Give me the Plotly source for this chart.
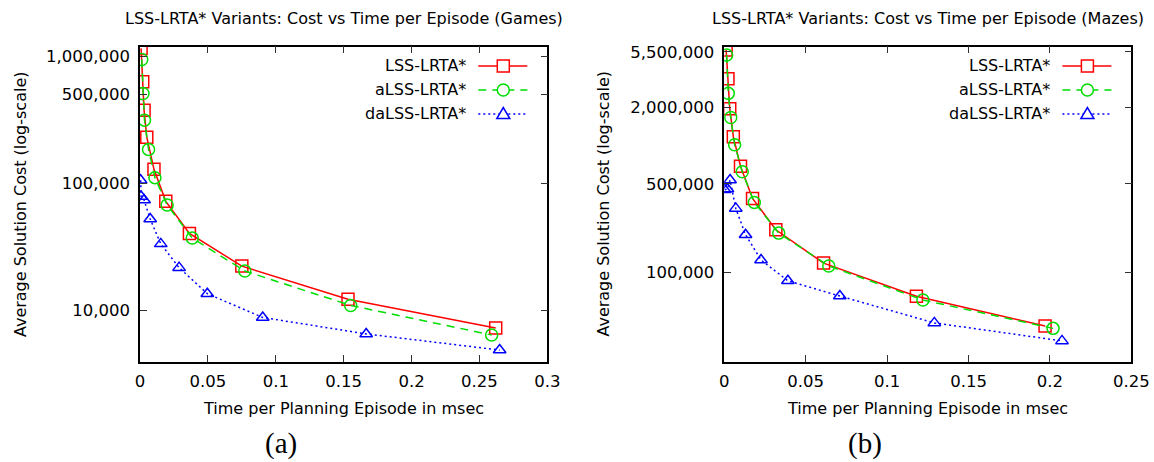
import plotly.graph_objects as go

# ---------------- data ----------------
series_names = ["LSS-LRTA*", "aLSS-LRTA*", "daLSS-LRTA*"]

# (a) Games
lss_games_x = [0.0008, 0.0020, 0.0030, 0.0050, 0.0103, 0.0190, 0.0364, 0.0750, 0.1532, 0.2620]
lss_games_y = [1150000, 630000, 375000, 231000, 129000, 72300, 40500, 22400, 12300, 7300]
alss_games_x = [0.0013, 0.0022, 0.0033, 0.0063, 0.0110, 0.0200, 0.0385, 0.0772, 0.1552, 0.2590]
alss_games_y = [940000, 508000, 314000, 185000, 111000, 67600, 37200, 20500, 11000, 6450]
dalss_games_x = [0.0005, 0.0008, 0.0030, 0.0075, 0.0153, 0.0288, 0.0496, 0.0904, 0.1666, 0.2649]
dalss_games_y = [106000, 79000, 74000, 52500, 33500, 21800, 13600, 8850, 6570, 4910]

# (b) Mazes
lss_mazes_x = [0.0012, 0.0023, 0.0034, 0.0056, 0.0100, 0.0174, 0.0317, 0.0610, 0.1180, 0.1970]
lss_mazes_y = [5700000, 3380000, 1960000, 1180000, 690000, 385000, 218000, 119000, 65300, 38000]
alss_mazes_x = [0.0015, 0.0025, 0.0040, 0.0064, 0.0111, 0.0185, 0.0335, 0.0642, 0.1220, 0.2019]
alss_mazes_y = [5200000, 2590000, 1670000, 1020000, 625000, 358000, 205000, 113000, 60900, 36400]
dalss_mazes_x = [0.0003, 0.0020, 0.0036, 0.0071, 0.0131, 0.0226, 0.0391, 0.0710, 0.1290, 0.2074]
dalss_mazes_y = [450000, 457000, 537000, 321000, 199000, 126000, 86300, 65400, 40200, 29000]

# tick labels
games_ytickvals = [1000000, 500000, 100000, 10000]
games_yticktext = ["1,000,000", "500,000", "100,000", "10,000"]
mazes_ytickvals = [5500000, 2000000, 500000, 100000]
mazes_yticktext = ["5,500,000", "2,000,000", "500,000", "100,000"]
games_xtickvals = [0, 0.05, 0.1, 0.15, 0.2, 0.25, 0.3]
mazes_xtickvals = [0, 0.05, 0.1, 0.15, 0.2, 0.25]

titles = ["LSS-LRTA* Variants: Cost vs Time per Episode (Games)",
          "LSS-LRTA* Variants: Cost vs Time per Episode (Mazes)"]
xlabel = "Time per Planning Episode in msec"
ylabel = "Average Solution Cost (log-scale)"
captions = ["(a)", "(b)"]

# ---------------- styles ----------------
W, H = 1154, 462
FONT = "DejaVu Sans"
FS = 16
TFS = 16.5
RED, GREEN, BLUE = "#ff0000", "#00dd00", "#0000ff"
styles = [
    dict(color=RED, dash="solid", symbol="square-open", size=12),
    dict(color=GREEN, dash="8px,6px", symbol="circle-open", size=12),
    dict(color=BLUE, dash="2px,3px", symbol="triangle-up-open", size=11),
]


def px(x):
    return x / W


def py(y):
    return 1 - y / H


fig = go.Figure()

panels = [
    ("x", "y", [(lss_games_x, lss_games_y), (alss_games_x, alss_games_y), (dalss_games_x, dalss_games_y)]),
    ("x2", "y2", [(lss_mazes_x, lss_mazes_y), (alss_mazes_x, alss_mazes_y), (dalss_mazes_x, dalss_mazes_y)]),
]
for xa, ya, series in panels:
    for name, (xs, ys), st in zip(series_names, series, styles):
        fig.add_trace(go.Scatter(
            x=xs, y=ys, name=name, xaxis=xa, yaxis=ya, mode="lines+markers",
            showlegend=False,
            line=dict(color=st["color"], width=1.5, dash=st["dash"]),
            marker=dict(symbol=st["symbol"], size=st["size"], color=st["color"],
                        line=dict(width=1.5, color=st["color"])),
        ))

# frame geometry (pixels)
frames = [(140.0, 547.3), (724.2, 1131.4)]
top_px, bot_px = 46.7, 361.5

axis_common = dict(
    showline=True, linecolor="black", linewidth=1.5, mirror="ticks",
    ticks="inside", ticklen=7, tickwidth=1.2, tickcolor="#333333",
    showgrid=False, zeroline=False, automargin=False,
    tickfont=dict(family=FONT, size=TFS, color="black"),
)
xaxis_extra = dict(ticklabelstandoff=4)
yaxis_extra = dict(ticklabelstandoff=5)

fig.update_layout(
    template="none",
    width=W, height=H, autosize=False,
    margin=dict(l=0, r=0, t=0, b=0, pad=0, autoexpand=False),
    paper_bgcolor="white", plot_bgcolor="white",
    showlegend=False,
    font=dict(family=FONT, size=FS, color="black"),
    xaxis=dict(domain=[px(frames[0][0]), px(frames[0][1])], range=[0, 0.3],
               tickvals=games_xtickvals, anchor="y", **axis_common, **xaxis_extra),
    yaxis=dict(domain=[py(bot_px), py(top_px)], type="log", range=[3.601, 6.074],
               tickvals=games_ytickvals, ticktext=games_yticktext, anchor="x",
               **axis_common, **yaxis_extra),
    xaxis2=dict(domain=[px(frames[1][0]), px(frames[1][1])], range=[0, 0.25],
                tickvals=mazes_xtickvals, anchor="y2", **axis_common, **xaxis_extra),
    yaxis2=dict(domain=[py(bot_px), py(top_px)], type="log", range=[4.300, 6.781],
                tickvals=mazes_ytickvals, ticktext=mazes_yticktext, anchor="x2",
                **axis_common, **yaxis_extra),
)

annotations = []
shapes = []
ylabel_x = [20, 603.5]
caption_x = [281, 865]
for i, (fl, fr) in enumerate(frames):
    cx = (fl + fr) / 2
    annotations.append(dict(text=titles[i], x=px(cx), y=py(19), xref="paper", yref="paper",
                            showarrow=False, xanchor="center", yanchor="middle",
                            font=dict(family=FONT, size=FS)))
    annotations.append(dict(text=xlabel, x=px(cx), y=py(408), xref="paper", yref="paper",
                            showarrow=False, xanchor="center", yanchor="middle",
                            font=dict(family=FONT, size=FS)))
    annotations.append(dict(text=ylabel, x=px(ylabel_x[i]), y=py((top_px + bot_px) / 2),
                            xref="paper", yref="paper", textangle=-90,
                            showarrow=False, xanchor="center", yanchor="middle",
                            font=dict(family=FONT, size=FS)))
    annotations.append(dict(text=captions[i], x=px(caption_x[i]), y=py(443), xref="paper", yref="paper",
                            showarrow=False, xanchor="center", yanchor="middle",
                            font=dict(family="Liberation Serif", size=29)))
    # custom gnuplot-style legend (text left, sample right)
    for j, (name, st) in enumerate(zip(series_names, styles)):
        ry = 66 + 24 * j
        annotations.append(dict(text=name, x=px(fr - 79.5), y=py(ry), xref="paper", yref="paper",
                                showarrow=False, xanchor="right", yanchor="middle",
                                font=dict(family=FONT, size=FS)))
        shapes.append(dict(type="line", xref="paper", yref="paper",
                           x0=px(fr - 69), x1=px(fr - 20), y0=py(ry), y1=py(ry),
                           line=dict(color=st["color"], width=1.5, dash=st["dash"])))
        mx, my = px(fr - 44), py(ry)
        mk = dict(xref="paper", yref="paper", xsizemode="pixel", ysizemode="pixel",
                  xanchor=mx, yanchor=my, line=dict(color=st["color"], width=1.5),
                  fillcolor="white")
        if j == 0:
            shapes.append(dict(type="rect", x0=-6, x1=6, y0=-6, y1=6, **mk))
        elif j == 1:
            shapes.append(dict(type="circle", x0=-6, x1=6, y0=-6, y1=6, **mk))
        else:
            shapes.append(dict(type="path", path="M -6.5,-4.5 L 6.5,-4.5 L 0,6.5 Z", **mk))

fig.update_layout(annotations=annotations, shapes=shapes)
fig.write_html(
    "out.html",
    config={"displayModeBar": False, "responsive": False},
    post_script="document.body.style.margin='0px';document.body.style.overflow='hidden';",
)
